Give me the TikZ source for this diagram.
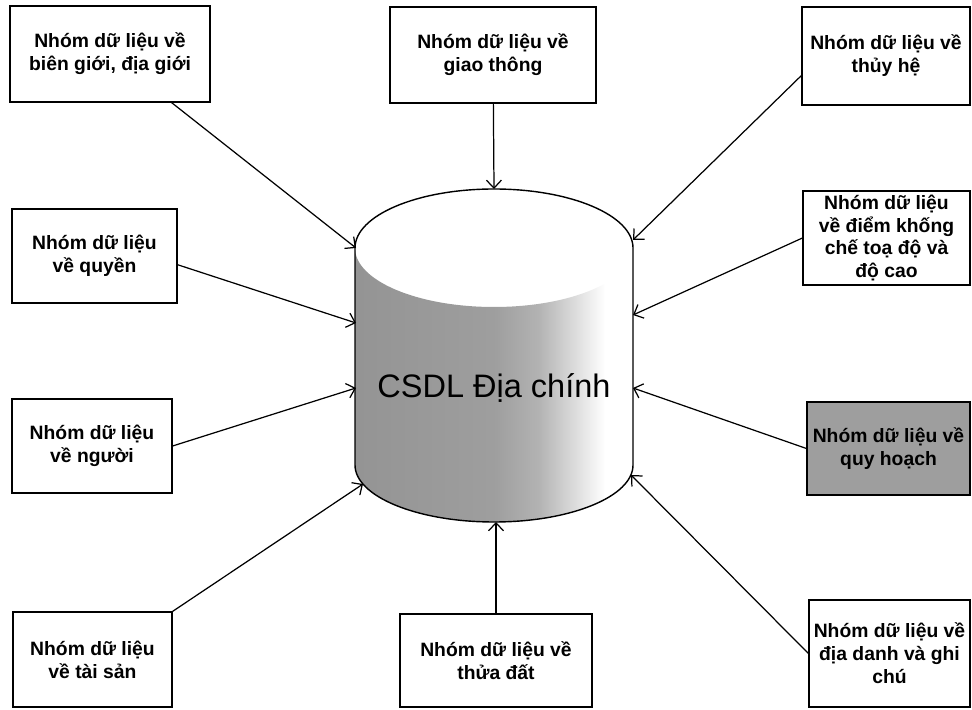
\documentclass[tikz,border=0pt]{standalone}
\usepackage{fontspec}
\setmainfont{Liberation Sans}
\usetikzlibrary{arrows.meta}
\pgfdeclarehorizontalshading{dbshade}{100bp}{color(0bp)=(black!42); color(25bp)=(black!42); color(50bp)=(black!38); color(58bp)=(black!30); color(70bp)=(white); color(100bp)=(white)}

\begin{document}
\begin{tikzpicture}[x=0.02cm, y=0.02cm,
    box/.style={draw, line width=0.7pt, align=center, inner sep=0pt,
        font=\bfseries\fontsize{11}{13}\selectfont},
    link/.style={line width=0.7pt, -{Straight Barb[length=4.5pt,width=8.5pt]}}]
    \useasboundingbox (0,0) rectangle (972,709);

    % Cylinder (CSDL)
    \shade[shading=dbshade] (355,461) -- (355,244)
        arc[start angle=180, end angle=360, x radius=139, y radius=57]
        -- (633,461) arc[start angle=0, end angle=-180, x radius=139, y radius=59] -- cycle;
    \draw[line width=0.8pt] (355,461) arc[start angle=180, end angle=0, x radius=139, y radius=59]
        -- (633,244) arc[start angle=0, end angle=-180, x radius=139, y radius=57] -- cycle;
    \node[font=\fontsize{18.5}{22}\selectfont] (csdl) at (494,321) {CSDL Địa chính};

    % Arrow ends on the cylinder
    \coordinate (dbtop) at (494,520);
    \coordinate (dbnw) at (356,461);
    \coordinate (dbne) at (633,469);
    \coordinate (dbe) at (633,394);
    \coordinate (dbw) at (356,386);
    \coordinate (dbwl) at (356,321);
    \coordinate (dbel) at (633,321);
    \coordinate (dbsw) at (363,225);
    \coordinate (dbbot) at (496,187);
    \coordinate (dbse) at (631,234);

    % Data groups
    \node[box, minimum width=4cm, minimum height=1.92cm] (bien) at (110,655) {Nhóm dữ liệu về\\biên giới, địa giới};
    \node[box, minimum width=4.12cm, minimum height=1.92cm] (giaothong) at (493,654) {Nhóm dữ liệu về\\giao thông};
    \node[box, minimum width=3.36cm, minimum height=1.96cm] (thuyhe) at (886,653) {Nhóm dữ liệu về\\thủy hệ};
    \node[box, minimum width=3.34cm, minimum height=1.88cm] (khongche) at (886.5,471) {Nhóm dữ liệu\\về điểm khống\\chế toạ độ và\\độ cao};
    \node[box, minimum width=3.3cm, minimum height=1.88cm] (quyen) at (94.5,453) {Nhóm dữ liệu\\về quyền};
    \node[box, minimum width=3.2cm, minimum height=1.88cm] (nguoi) at (92,263) {Nhóm dữ liệu\\về người};
    \node[box, fill=black!38, minimum width=3.26cm, minimum height=1.86cm] (quyhoach) at (888.5,260.5) {Nhóm dữ liệu về\\quy hoạch};
    \node[box, minimum width=3.18cm, minimum height=1.9cm] (taisan) at (92.5,49.5) {Nhóm dữ liệu\\về tài sản};
    \node[box, minimum width=3.84cm, minimum height=1.86cm] (thuadat) at (496,48.5) {Nhóm dữ liệu về\\thửa đất};
    \node[box, minimum width=3.22cm, minimum height=2.14cm] (diadanh) at (889.5,55.5) {Nhóm dữ liệu về\\địa danh và ghi\\chú};

    % Links into the database
    \draw[link] (bien) -- (dbnw);
    \draw[link] (giaothong) -- (dbtop);
    \draw[link] (thuyhe.193) -- (dbne);
    \draw[link] (khongche.west) -- (dbe);
    \draw[link] (quyen.-6) -- (dbw);
    \draw[link] (nguoi.east) -- (dbwl);
    \draw[link] (quyhoach.west) -- (dbel);
    \draw[link] (taisan.north east) -- (dbsw);
    \draw[link] (thuadat.north) -- (dbbot);
    \draw[link] (diadanh.west) -- (dbse);
\end{tikzpicture}
\end{document}
